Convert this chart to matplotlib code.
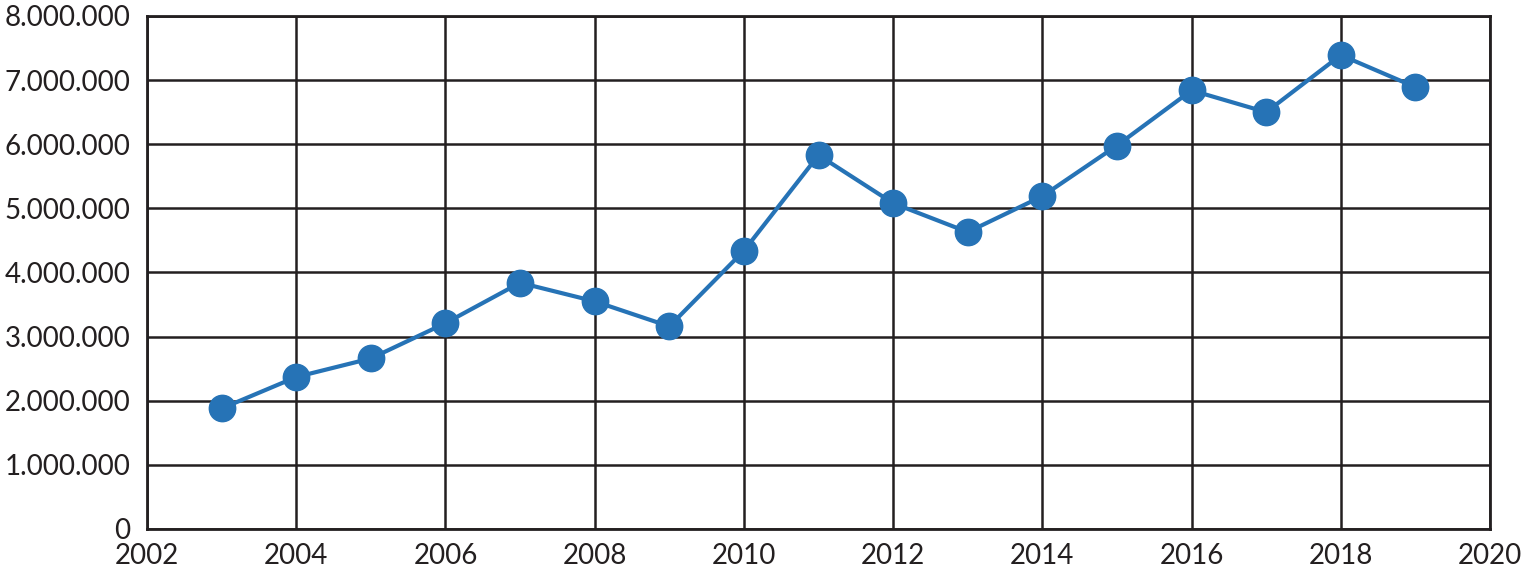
import matplotlib
matplotlib.use("Agg")
import matplotlib.pyplot as plt
from matplotlib.ticker import FuncFormatter, MultipleLocator

years = [2003, 2004, 2005, 2006, 2007, 2008, 2009, 2010, 2011, 2012,
         2013, 2014, 2015, 2016, 2017, 2018, 2019]
values = [1880000, 2370000, 2660000, 3210000, 3840000, 3550000, 3160000,
          4340000, 5830000, 5080000, 4630000, 5190000, 5980000, 6840000,
          6500000, 7390000, 6890000]

plt.rcParams['font.family'] = ['Lato', 'DejaVu Sans']

fig = plt.figure(figsize=(15.24, 5.77), dpi=100)
ax = fig.add_axes([0.0965, 0.0832, 0.8812, 0.8891])

ax.plot(years, values, color='#2673b6', lw=3, marker='o', ms=19, zorder=3, clip_on=False)

ax.set_xlim(2002, 2020)
ax.set_ylim(0, 8000000)
ax.xaxis.set_major_locator(MultipleLocator(2))
ax.yaxis.set_major_locator(MultipleLocator(1000000))
ax.yaxis.set_major_formatter(FuncFormatter(lambda v, p: '0' if v == 0 else f"{int(v):,}".replace(',', '.')))

ax.grid(True, color='#231f20', lw=1.8)
ax.set_axisbelow(True)
for s in ax.spines.values():
    s.set_color('#231f20')
    s.set_linewidth(2)
ax.tick_params(length=0, labelsize=20, colors='#231f20')
ax.tick_params(axis='y', pad=12)
ax.tick_params(axis='x', pad=10)

fig.savefig('out.png', dpi=100)
